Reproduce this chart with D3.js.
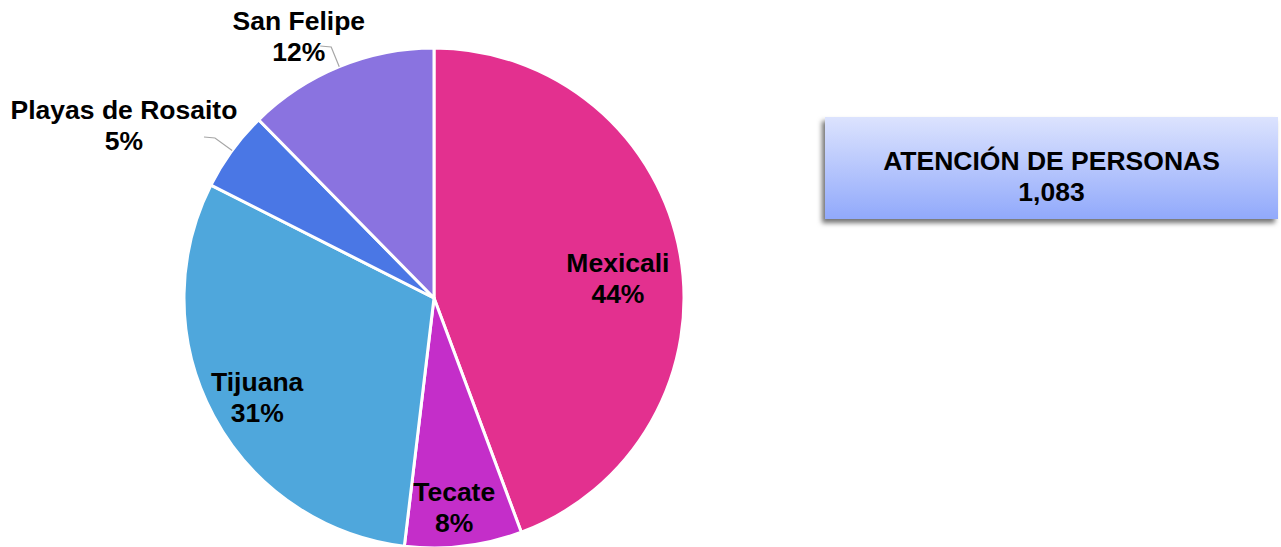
<!DOCTYPE html>
<html>
<head>
<meta charset="utf-8">
<script src="https://cdn.jsdelivr.net/npm/d3@7"></script>
<style>
  html, body { margin: 0; padding: 0; background: #fff; }
  svg text { font-family: "Liberation Sans", Arial, sans-serif; font-weight: bold; fill: #000; }
</style>
</head>
<body>
<svg id="chart" width="1281" height="547"></svg>
<script>
"use strict"

// data
var municipios = ["Mexicali", "Tecate", "Tijuana", "Playas de Rosaito", "San Felipe"]
var personas = [480, 82, 331, 56, 134]
var colores = ["#e3308f", "#c42ec9", "#4fa7dc", "#4a77e5", "#8a73e0"]
var tituloCaja = ["ATENCIÓN DE PERSONAS", "1,083"]

// label placement: radius factor and small angular turn (degrees) from slice mid angle
var labelLayout = {
  "Mexicali": { k: 0.74, turn: 4, leader: false },
  "Tecate": { k: 0.84, turn: 1.3, leader: false },
  "Tijuana": { k: 0.81, turn: -1, leader: false },
  "Playas de Rosaito": { k: 1.42, turn: -7, leader: true },
  "San Felipe": { k: 1.18, turn: -5, leader: true }
}

var svg = d3.select("#chart")
var cx = 434, cy = 298, r = 250
var total = d3.sum(personas)

var data = municipios.map(function(m, i) {
  return { name: m, value: personas[i], color: colores[i] }
})

var pie = d3.pie().sort(null).value(function(d){ return d.value })
var arc = d3.arc().innerRadius(0).outerRadius(r)
var arcs = pie(data)

var g = svg.append("g").attr("transform", "translate(" + cx + "," + cy + ")")

g.selectAll(".slice")
  .data(arcs)
  .enter().append("path")
  .attr("class", "slice")
  .attr("d", arc)
  .attr("fill", function(d){ return d.data.color })
  .attr("stroke", "#fff")
  .attr("stroke-width", 3)
  .attr("stroke-linejoin", "round")

function polar(angle, rad) {
  return [Math.sin(angle) * rad, -Math.cos(angle) * rad]
}

// leader lines for the small slices that are labelled outside
arcs.forEach(function(d) {
  var lay = labelLayout[d.data.name]
  if (!lay.leader) return
  var mid = (d.startAngle + d.endAngle) / 2
  var p0 = polar(mid, r)
  var p1 = polar(mid, r * 1.085)
  var p2 = [p1[0] - 11, p1[1] - 1]
  g.append("polyline")
    .attr("points", [p0, p1, p2].map(function(p){ return p.join(",") }).join(" "))
    .attr("fill", "none")
    .attr("stroke", "#a6a6a6")
    .attr("stroke-width", 1.2)
})

var labels = g.selectAll(".lbl")
  .data(arcs)
  .enter().append("text")
  .attr("class", "lbl")
  .attr("text-anchor", "middle")
  .style("font-size", "26.5px")
  .attr("transform", function(d) {
    var lay = labelLayout[d.data.name]
    var mid = (d.startAngle + d.endAngle) / 2 + lay.turn * Math.PI / 180
    var p = polar(mid, r * lay.k)
    return "translate(" + p[0] + "," + p[1] + ")"
  })

labels.append("tspan")
  .attr("x", 0).attr("y", -6)
  .text(function(d){ return d.data.name })

labels.append("tspan")
  .attr("x", 0).attr("y", 25)
  .text(function(d){ return d3.format(".0%")(d.data.value / total) })

// total box on the right
var defs = svg.append("defs")
var grad = defs.append("linearGradient")
  .attr("id", "boxGrad").attr("x1", 0).attr("y1", 0).attr("x2", 0).attr("y2", 1)
grad.append("stop").attr("offset", "0%").attr("stop-color", "#dce3fe")
grad.append("stop").attr("offset", "100%").attr("stop-color", "#91a9fb")

var shadow = defs.append("filter").attr("id", "boxShadow")
  .attr("x", "-10%").attr("y", "-20%").attr("width", "120%").attr("height", "150%")
shadow.append("feDropShadow")
  .attr("dx", -3).attr("dy", 4).attr("stdDeviation", 2.5)
  .attr("flood-color", "#000").attr("flood-opacity", 0.55)

var box = { x: 825, y: 117, w: 453, h: 102 }

svg.append("rect")
  .attr("x", box.x).attr("y", box.y)
  .attr("width", box.w).attr("height", box.h)
  .attr("fill", "url(#boxGrad)")
  .attr("filter", "url(#boxShadow)")

var boxText = svg.append("text")
  .attr("text-anchor", "middle")
  .style("font-size", "26.5px")

boxText.selectAll("tspan")
  .data(tituloCaja)
  .enter().append("tspan")
  .attr("x", box.x + box.w / 2)
  .attr("y", function(d, i){ return 170 + i * 31 })
  .text(function(d){ return d })
</script>
</body>
</html>
